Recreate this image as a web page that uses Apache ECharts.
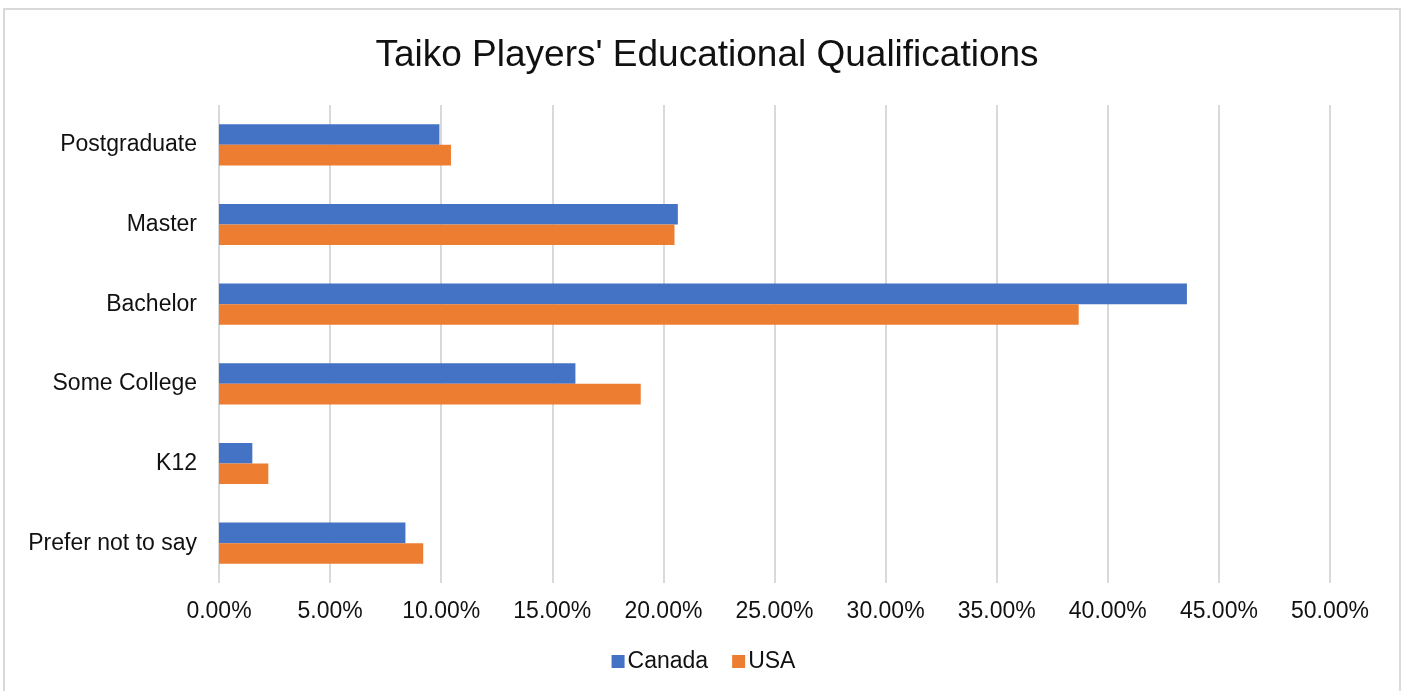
<!DOCTYPE html>
<html>
<head>
<meta charset="utf-8">
<script src="https://cdn.jsdelivr.net/npm/echarts@6/dist/echarts.min.js"></script>
<style>
  html, body { margin: 0; padding: 0; background: #fff; }
  #chart { width: 1407px; height: 691px; }
</style>
</head>
<body>
<div id="chart"></div>
<script>
const categories = ['Postgraduate', 'Master', 'Bachelor', 'Some College', 'K12', 'Prefer not to say'];
const canada = [9.92, 20.65, 43.56, 16.04, 1.5, 8.39];
const usa = [10.44, 20.5, 38.69, 18.98, 2.22, 9.19];
const tickValues = [0, 5, 10, 15, 20, 25, 30, 35, 40, 45, 50];

const font = '"Liberation Sans", Arial, sans-serif';
const myChart = echarts.init(document.getElementById('chart'));

const option = {
  animation: false,
  backgroundColor: '#fff',
  title: {
    text: "Taiko Players' Educational Qualifications",
    left: 702,
    top: 32,
    textAlign: 'center',
    textStyle: { fontFamily: font, fontSize: 37, fontWeight: 'normal', color: '#111' }
  },
  graphic: [{
    type: 'rect',
    shape: { x: 4, y: 9, width: 1396, height: 700 },
    style: { fill: 'none', stroke: '#d9d9d9', lineWidth: 2 },
    silent: true
  }],
  legend: {
    data: ['Canada', 'USA'],
    bottom: 13,
    left: 'center',
    itemWidth: 13,
    itemHeight: 13,
    itemGap: 24,
    icon: 'rect',
    textStyle: { fontFamily: font, fontSize: 23, color: '#111', padding: [0, 0, 0, -2] }
  },
  grid: { left: 219, right: 77, top: 105, bottom: 108 },
  xAxis: {
    type: 'value',
    min: tickValues[0],
    max: tickValues[tickValues.length - 1],
    interval: 5,
    axisLine: { show: false },
    axisTick: { show: false },
    splitLine: { lineStyle: { color: '#d9d9d9', width: 2 } },
    axisLabel: {
      fontFamily: font, fontSize: 23, color: '#111', margin: 17,
      formatter: v => v.toFixed(2) + '%'
    }
  },
  yAxis: {
    type: 'category',
    data: categories,
    inverse: true,
    axisLine: { show: false },
    axisTick: { show: false },
    axisLabel: { fontFamily: font, fontSize: 23, color: '#111', margin: 22, padding: [4, 0, 0, 0] }
  },
  series: [
    {
      name: 'Canada',
      type: 'bar',
      data: canada,
      barWidth: 20.6,
      barGap: '0%',
      itemStyle: { color: '#4472c4' }
    },
    {
      name: 'USA',
      type: 'bar',
      data: usa,
      barWidth: 20.6,
      barGap: '0%',
      itemStyle: { color: '#ed7d31' }
    }
  ]
};

option && myChart.setOption(option);
</script>
</body>
</html>
